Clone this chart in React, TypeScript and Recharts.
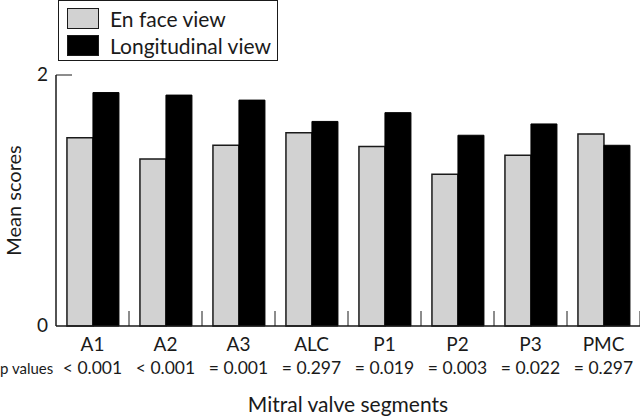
import { BarChart, Bar, XAxis, YAxis } from "recharts";

const segments = ["A1", "A2", "A3", "ALC", "P1", "P2", "P3", "PMC"];
const enFace = [1.5, 1.33, 1.44, 1.54, 1.43, 1.21, 1.36, 1.53];
const longitudinal = [1.86, 1.84, 1.8, 1.63, 1.7, 1.52, 1.61, 1.44];
const pValues = ["< 0.001", "< 0.001", "= 0.001", "= 0.297", "= 0.019", "= 0.003", "= 0.022", "= 0.297"];
const yTicks = [0, 2];

const data = segments.map((name, i) => ({ name, enFace: enFace[i], longitudinal: longitudinal[i], p: pValues[i] }));

const FONT = "Lato, 'DejaVu Sans', sans-serif";
const INK = "#1a1a1a";
const GREY = "#d2d2d2";

function SegmentTick(props: any) {
    const { x, y, payload, index } = props;
    const half = payload.offset ?? 36.5;
    return (
        <g>
            <line x1={x + half} y1={y} x2={x + half} y2={y - 15} stroke={INK} strokeWidth={1} />
            <text x={x} y={y + 25} textAnchor="middle" fontSize={19} fill={INK} fontFamily={FONT}>{payload.value}</text>
            <text x={x} y={y + 48} textAnchor="middle" fontSize={17.5} fill={INK} fontFamily={FONT}>{data[index]?.p}</text>
            {index === 0 && <text x={0} y={y + 48} textAnchor="start" fontSize={15} fill={INK} fontFamily={FONT}>p values</text>}
        </g>
    );
}

function ScoreTick(props: any) {
    const { x, y, payload } = props;
    return (
        <g>
            <text x={x} y={y} dy={6} textAnchor="end" fontSize={19} fill={INK} fontFamily={FONT}>{payload.value}</text>
            {payload.value !== 0 && <line x1={x + 8} y1={y} x2={x + 24} y2={y} stroke={INK} strokeWidth={1} />}
        </g>
    );
}

// axis title sits near the bottom of the x axis band
function AxisTitle(props: any) {
    const vb = props.viewBox || {};
    return (
        <text x={vb.x + vb.width / 2} y={vb.y + 86} textAnchor="middle" fontSize={21} fill={INK} fontFamily={FONT}>
            Mitral valve segments
        </text>
    );
}

function LegendBox() {
    const rows = [
        { label: "En face view", color: GREY },
        { label: "Longitudinal view", color: "#000" },
    ];
    return (
        <div style={{ position: "absolute", top: 0, left: 58, border: `1.5px solid ${INK}`, width: 220, height: 61, boxSizing: "border-box", padding: "5px 0 0 8px", background: "#fff" }}>
            {rows.map((r) => (
                <div key={r.label} style={{ display: "flex", alignItems: "center", height: 25, marginBottom: 2 }}>
                    <span style={{ width: 32, height: 21, background: r.color, border: `1.5px solid ${INK}`, boxSizing: "border-box", display: "inline-block" }} />
                    <span style={{ marginLeft: 11, fontSize: 21, color: INK, fontFamily: FONT, lineHeight: "25px" }}>{r.label}</span>
                </div>
            ))}
        </div>
    );
}

export default function App() {
    return (
        <div style={{ position: "fixed", left: 0, top: 0, width: 640, height: 416, background: "#fff" }}>
            <BarChart width={640} height={416} data={data} margin={{ top: 75, right: 0, bottom: 0, left: 0 }} barCategoryGap="15%" barGap={0}>
                <XAxis
                    dataKey="name"
                    height={90}
                    tick={<SegmentTick />}
                    tickSize={0}
                    tickMargin={0}
                    tickLine={false}
                    axisLine={{ stroke: INK, strokeWidth: 1.5 }}
                    interval={0}
                    label={{ content: <AxisTitle /> }}
                />
                <YAxis
                    width={56}
                    domain={[0, 2]}
                    ticks={yTicks}
                    tick={<ScoreTick />}
                    tickSize={0}
                    tickMargin={8}
                    tickLine={false}
                    axisLine={{ stroke: INK, strokeWidth: 1.5 }}
                    label={{ value: "Mean scores", angle: -90, position: "insideLeft", offset: 14, fontSize: 20, fill: INK, fontFamily: FONT, style: { textAnchor: "middle" } }}
                />
                <Bar dataKey="enFace" name="En face view" fill={GREY} stroke={INK} strokeWidth={1.5} isAnimationActive={false} />
                <Bar dataKey="longitudinal" name="Longitudinal view" fill="#000" stroke="#000" strokeWidth={1} isAnimationActive={false} />
            </BarChart>
            <LegendBox />
        </div>
    );
}
